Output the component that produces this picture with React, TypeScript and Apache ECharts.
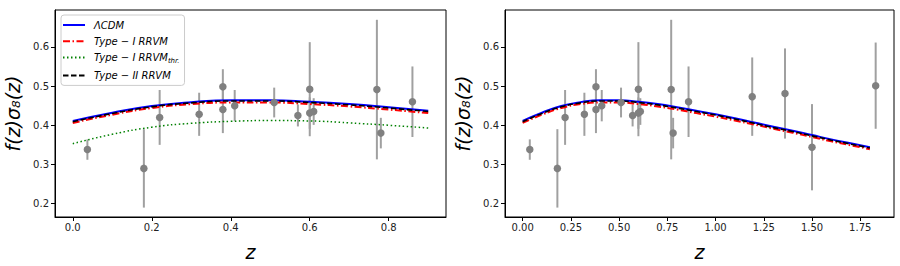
import React, { useEffect, useRef } from "react";
import * as echarts from "echarts";

// z grid of the model curves
const zGrid = [0, 0.1, 0.2, 0.3, 0.4, 0.5, 0.6, 0.7, 0.8, 0.9, 1.0, 1.1, 1.2, 1.3, 1.4, 1.5, 1.6, 1.7, 1.8];
const lcdm = [0.411, 0.432, 0.449, 0.459, 0.464, 0.464, 0.46, 0.454, 0.446, 0.437, 0.428, 0.418, 0.407, 0.396, 0.386, 0.375, 0.364, 0.354, 0.344];
const typeI = [0.406, 0.427, 0.444, 0.454, 0.458, 0.458, 0.454, 0.448, 0.44, 0.431, 0.422, 0.412, 0.402, 0.391, 0.381, 0.37, 0.359, 0.349, 0.339];
const typeII = [0.409, 0.43, 0.447, 0.457, 0.462, 0.462, 0.458, 0.452, 0.444, 0.435, 0.426, 0.416, 0.405, 0.394, 0.384, 0.373, 0.362, 0.352, 0.342];
const typeIthr = [0.353, 0.377, 0.395, 0.405, 0.41, 0.412, 0.411, 0.406, 0.4, 0.393];

// observational f(z)sigma8(z) data
const dataZ = [0.037, 0.18, 0.22, 0.32, 0.38, 0.38, 0.41, 0.51, 0.57, 0.6, 0.6, 0.61, 0.77, 0.78, 0.86, 1.19, 1.36, 1.5, 1.83];
const dataF = [0.338, 0.29, 0.42, 0.428, 0.498, 0.44, 0.45, 0.458, 0.425, 0.492, 0.431, 0.435, 0.491, 0.38, 0.46, 0.473, 0.481, 0.344, 0.501];
const dataErr = [0.026, 0.1, 0.07, 0.055, 0.045, 0.06, 0.04, 0.038, 0.028, 0.12, 0.04, 0.034, 0.178, 0.039, 0.09, 0.1, 0.115, 0.11, 0.11];

// tick labels
const yTicks = [0.2, 0.3, 0.4, 0.5, 0.6];
const xTicksLeft = [0, 0.2, 0.4, 0.6, 0.8];
const xTicksRight = [0, 0.25, 0.5, 0.75, 1.0, 1.25, 1.5, 1.75];

const names = ["LCDM", "TypeI", "TypeIthr", "TypeII"];

const FONT = "DejaVu Sans";

function pairs(n: number, vals: number[]) {
  return vals.slice(0, n).map((v, i) => [zGrid[i], v]);
}

export default function App() {
  const ref = useRef<HTMLDivElement>(null);
  useEffect(() => {
    if (!ref.current) return;
    const chart = echarts.init(ref.current, null, { renderer: "svg" });

    const grids = [
      { left: 55, width: 391, top: 10, height: 218 },
      { left: 505, width: 389, top: 10, height: 218 },
    ];

    const mkX = (gi: number, min: number, max: number, ticks: number[], dec: number) => ({
      type: "value",
      gridIndex: gi,
      min,
      max,
      name: "z",
      nameLocation: "middle",
      nameGap: 25,
      nameTextStyle: { fontFamily: FONT, fontStyle: "italic", fontSize: 19, color: "#000" },
      splitLine: { show: false },
      axisLine: { show: true, onZero: false, lineStyle: { color: "#000", width: 1 } },
      axisTick: { show: true, inside: false, length: 4, lineStyle: { color: "#000" }, customValues: ticks },
      axisLabel: {
        margin: 5,
        fontFamily: FONT,
        fontSize: 10,
        color: "#222",
        customValues: ticks,
        formatter: (v: number) => v.toFixed(dec),
      },
    });

    const mkY = (gi: number) => ({
      type: "value",
      gridIndex: gi,
      min: 0.166,
      max: 0.694,
      name: "f(z)σ₈(z)",
      nameLocation: "middle",
      nameGap: 33,
      nameRotate: 90,
      nameTextStyle: { fontFamily: FONT, fontStyle: "italic", fontSize: 19, color: "#000" },
      splitLine: { show: false },
      axisLine: { show: true, onZero: false, lineStyle: { color: "#000", width: 1 } },
      axisTick: { show: true, inside: false, length: 4, lineStyle: { color: "#000" }, customValues: yTicks },
      axisLabel: {
        margin: 6,
        fontFamily: FONT,
        fontSize: 10,
        color: "#222",
        customValues: yTicks,
        formatter: (v: number) => v.toFixed(1),
      },
    });

    const lineSeries = (gi: number, n: number, withThr: boolean) => {
      const s: any[] = [
        {
          name: names[0], type: "line", xAxisIndex: gi, yAxisIndex: gi, symbol: "none",
          data: pairs(n, lcdm), smooth: true,
          lineStyle: { color: "#0000ff", width: 2 }, itemStyle: { color: "#0000ff" },
        },
        {
          name: names[1], type: "line", xAxisIndex: gi, yAxisIndex: gi, symbol: "none",
          data: pairs(n, typeI), smooth: true,
          lineStyle: { color: "#ff0000", width: 2, type: [7, 2.5, 1.5, 2.5] }, itemStyle: { color: "#ff0000" },
        },
      ];
      if (withThr) {
        s.push({
          name: names[2], type: "line", xAxisIndex: gi, yAxisIndex: gi, symbol: "none",
          data: pairs(typeIthr.length, typeIthr), smooth: true,
          lineStyle: { color: "#008000", width: 1.5, type: [1.5, 2.5] }, itemStyle: { color: "#008000" },
        });
      }
      s.push({
        name: names[3], type: "line", xAxisIndex: gi, yAxisIndex: gi, symbol: "none",
        data: pairs(n, typeII), smooth: true,
        lineStyle: { color: "#000000", width: 1.6, type: [5.5, 2.5] }, itemStyle: { color: "#000000" },
      });
      return s;
    };

    const pointSeries = (gi: number, maxZ: number) => {
      const idx = dataZ.map((z, i) => i).filter((i) => dataZ[i] <= maxZ);
      return [
        {
          type: "custom",
          xAxisIndex: gi,
          yAxisIndex: gi,
          data: idx.map((i) => [dataZ[i], dataF[i] - dataErr[i], dataF[i] + dataErr[i]]),
          encode: { x: 0, y: [1, 2] },
          renderItem: (params: any, api: any) => {
            const p1 = api.coord([api.value(0), api.value(1)]);
            const p2 = api.coord([api.value(0), api.value(2)]);
            return {
              type: "line",
              shape: { x1: p1[0], y1: p1[1], x2: p2[0], y2: p2[1] },
              style: { stroke: "#a0a0a0", lineWidth: 2 },
            };
          },
          silent: true,
          z: 3,
        },
        {
          type: "scatter",
          xAxisIndex: gi,
          yAxisIndex: gi,
          symbol: "circle",
          symbolSize: 7.5,
          data: idx.map((i) => [dataZ[i], dataF[i]]),
          itemStyle: { color: "#808080", opacity: 1 },
          z: 4,
        },
      ];
    };

    const legendLabels: Record<string, string> = {
      LCDM: "{t|ΛCDM}",
      TypeI: "{t|Type − I RRVM}",
      TypeIthr: "{t|Type − I RRVM}{s|thr.}",
      TypeII: "{t|Type − II RRVM}",
    };

    const option: any = {
      animation: false,
      backgroundColor: "#fff",
      grid: grids.map((g) => ({ ...g, show: true, borderColor: "#000", borderWidth: 1, backgroundColor: "transparent" })),
      xAxis: [mkX(0, -0.045, 0.945, xTicksLeft, 1), mkX(1, -0.0915, 1.925, xTicksRight, 2)],
      yAxis: [mkY(0), mkY(1)],
      legend: {
        data: names,
        orient: "vertical",
        left: 61,
        top: 15,
        itemWidth: 22,
        itemHeight: 12,
        itemGap: 6.3,
        padding: [5, 5, 5, 1],
        backgroundColor: "rgba(255,255,255,0.85)",
        borderColor: "#cccccc",
        borderWidth: 1,
        borderRadius: 3,
        selectedMode: false,
        itemStyle: { opacity: 0 },
        formatter: (n: string) => legendLabels[n],
        textStyle: {
          rich: {
            t: { fontFamily: FONT, fontStyle: "italic", fontSize: 10, color: "#000", padding: [0, 0, 0, 4] },
            s: { fontFamily: FONT, fontStyle: "italic", fontSize: 7, color: "#000", padding: [6, 0, 0, 0] },
          },
        },
      },
      series: [
        ...lineSeries(0, 10, true),
        ...pointSeries(0, 0.9),
        ...lineSeries(1, zGrid.length, false),
        ...pointSeries(1, 2.0),
      ],
    };
    chart.setOption(option);
    return () => chart.dispose();
  }, []);

  return <div ref={ref} style={{ width: 900, height: 266, position: "absolute", left: 0, top: 0 }} />;
}
